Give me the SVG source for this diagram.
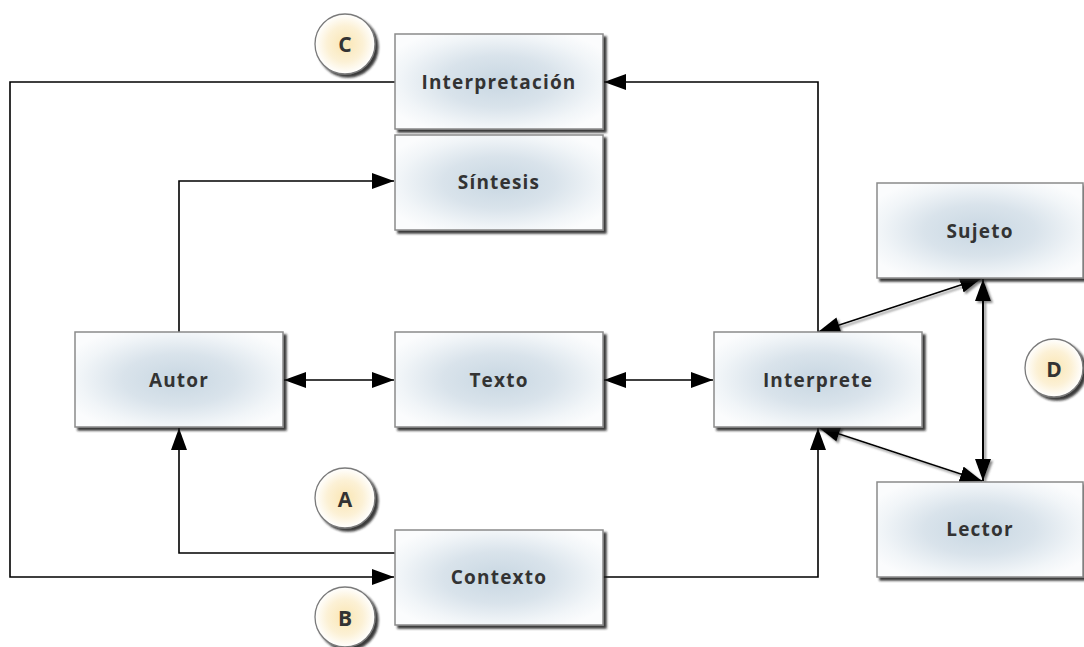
<svg xmlns="http://www.w3.org/2000/svg" width="1084" height="647" viewBox="0 0 1084 647">
<style>
.box{fill:url(#boxGrad);stroke:#8a8a8a;stroke-width:1.5;filter:url(#shadow)}
.lbl{font-family:"Open Sans","Noto Sans","Liberation Sans",sans-serif;font-weight:bold;font-size:19px;letter-spacing:1.2px;fill:#333;text-anchor:middle;dominant-baseline:central}
.badge{fill:url(#badgeGrad);stroke:#7a7a7a;stroke-width:1.3;filter:url(#shadow2)}
.blbl{font-family:"Open Sans","Noto Sans","Liberation Sans",sans-serif;font-weight:bold;font-size:21px;fill:#333;text-anchor:middle;dominant-baseline:central}
.con{fill:none;stroke:#000;stroke-width:1.6}
.s{marker-end:url(#arr)}
.b{marker-start:url(#arrS);marker-end:url(#arr)}
.dg{filter:url(#lshadow)}
</style>
<defs>
<radialGradient id="boxGrad" cx="0.5" cy="0.5" r="0.6">
<stop offset="0" stop-color="#c8d7e2"/>
<stop offset="0.45" stop-color="#d9e3eb"/>
<stop offset="0.8" stop-color="#f1f5f8"/>
<stop offset="1" stop-color="#fbfcfd"/>
</radialGradient>
<radialGradient id="badgeGrad" cx="0.5" cy="0.5" r="0.5">
<stop offset="0" stop-color="#fae6b4"/>
<stop offset="0.6" stop-color="#fcf1d6"/>
<stop offset="1" stop-color="#ffffff"/>
</radialGradient>
<filter id="shadow" x="-10%" y="-10%" width="125%" height="130%">
<feGaussianBlur in="SourceAlpha" stdDeviation="1.3"/>
<feOffset dx="3" dy="3" result="b"/>
<feFlood flood-color="#1a1a1a" flood-opacity="0.85"/>
<feComposite in2="b" operator="in"/>
<feMerge><feMergeNode/><feMergeNode in="SourceGraphic"/></feMerge>
</filter>
<filter id="shadow2" x="-20%" y="-20%" width="150%" height="150%">
<feGaussianBlur in="SourceAlpha" stdDeviation="1.3"/>
<feOffset dx="3" dy="3" result="b"/>
<feFlood flood-color="#1a1a1a" flood-opacity="0.85"/>
<feComposite in2="b" operator="in"/>
<feMerge><feMergeNode/><feMergeNode in="SourceGraphic"/></feMerge>
</filter>
<filter id="lshadow" x="-20%" y="-20%" width="150%" height="150%">
<feGaussianBlur in="SourceAlpha" stdDeviation="0.8"/>
<feOffset dx="2" dy="2" result="b"/>
<feFlood flood-color="#555" flood-opacity="0.7"/>
<feComposite in2="b" operator="in"/>
<feMerge><feMergeNode/><feMergeNode in="SourceGraphic"/></feMerge>
</filter>
<marker id="arr" markerUnits="userSpaceOnUse" markerWidth="24" markerHeight="18" refX="22" refY="8" orient="auto">
<path d="M0,0 L22,8 L0,16 Z" fill="#000"/>
</marker>
<marker id="arrS" markerUnits="userSpaceOnUse" markerWidth="24" markerHeight="18" refX="0" refY="8" orient="auto">
<path d="M22,0 L0,8 L22,16 Z" fill="#000"/>
</marker>
</defs>
<rect width="1084" height="647" fill="#fff"/>

<g id="connectors">
<path class="con s" d="M818,332 V82 H604"/>
<path class="con s" d="M395,82 H10 V577 H394"/>
<path class="con s" d="M179,332 V181 H394"/>
<path class="con s" d="M395,553 H179 V428"/>
<path class="con s" d="M603,577 H818 V428"/>
<path class="con b" d="M284,380 H394"/>
<path class="con b" d="M604,380 H713"/>
<g class="dg">
<path class="con b" d="M818,332 L982,278"/>
<path class="con b" d="M818,427 L982,481"/>
<path class="con b" d="M983,279 V481" style="stroke-width:2"/>
</g>
</g>

<g id="node-interpretacion">
<rect class="box" x="395" y="34" width="208" height="95"/>
<text class="lbl" x="499" y="82">Interpretación</text>
</g>
<g id="node-sintesis">
<rect class="box" x="395" y="135" width="208" height="95"/>
<text class="lbl" x="499" y="182">Síntesis</text>
</g>
<g id="node-autor">
<rect class="box" x="75" y="332" width="208" height="95"/>
<text class="lbl" x="179" y="380">Autor</text>
</g>
<g id="node-texto">
<rect class="box" x="395" y="332" width="208" height="95"/>
<text class="lbl" x="499" y="380">Texto</text>
</g>
<g id="node-interprete">
<rect class="box" x="714" y="332" width="208" height="95"/>
<text class="lbl" x="818" y="380">Interprete</text>
</g>
<g id="node-sujeto">
<rect class="box" x="877" y="183" width="206" height="95"/>
<text class="lbl" x="980" y="231">Sujeto</text>
</g>
<g id="node-lector">
<rect class="box" x="877" y="482" width="206" height="95"/>
<text class="lbl" x="980" y="529">Lector</text>
</g>
<g id="node-contexto">
<rect class="box" x="395" y="530" width="208" height="95"/>
<text class="lbl" x="499" y="577">Contexto</text>
</g>

<g id="badge-c">
<circle class="badge" cx="345" cy="44" r="30"/>
<text class="blbl" x="345" y="44">C</text>
</g>
<g id="badge-a">
<circle class="badge" cx="345" cy="498" r="30"/>
<text class="blbl" x="345" y="499">A</text>
</g>
<g id="badge-b">
<circle class="badge" cx="345" cy="617" r="30"/>
<text class="blbl" x="345" y="618">B</text>
</g>
<g id="badge-d">
<circle class="badge" cx="1054" cy="368" r="29"/>
<text class="blbl" x="1054" y="369">D</text>
</g>
</svg>
